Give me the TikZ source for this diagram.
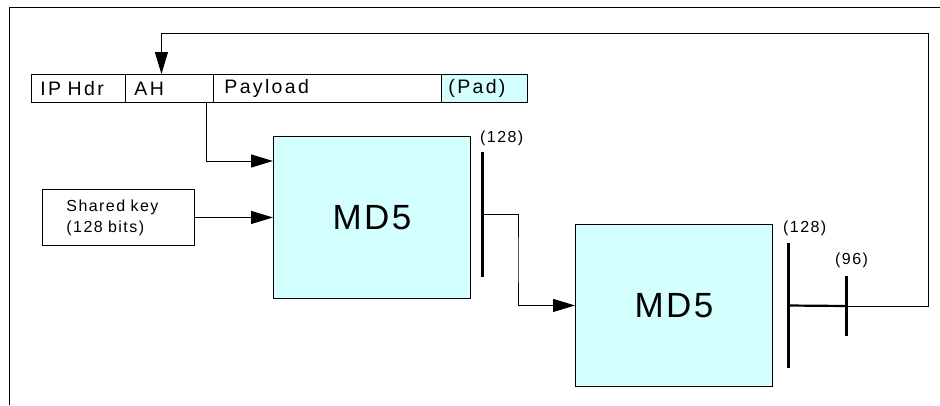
\documentclass[tikz,border=0pt]{standalone}
\usepackage{fontspec}
\setmainfont{Liberation Sans}
\newfontfamily\widefont[LetterSpace=12,WordSpace=1.6]{Liberation Sans}
\newfontfamily\lblwide[LetterSpace=9,WordSpace=1.6]{Liberation Sans}
\newfontfamily\mdwide[LetterSpace=7]{Liberation Sans}
\usetikzlibrary{arrows.meta}
\definecolor{boxcyan}{RGB}{212,255,255}
\tikzset{
  field/.style={draw, line width=0.9pt, minimum height=28pt, inner xsep=9pt, inner ysep=0pt,
    anchor=north west, align=left, font=\widefont\fontsize{19.5}{22}\selectfont},
  mdbox/.style={draw, fill=boxcyan, line width=0.9pt, minimum width=197pt, minimum height=162pt,
    anchor=north west, inner sep=0pt, font=\mdwide\fontsize{35}{40}\selectfont},
  keybox/.style={draw, line width=0.9pt, minimum height=56pt, inner xsep=24pt, inner ysep=0pt,
    anchor=north west, align=left, font=\lblwide\fontsize{16}{21}\selectfont},
  bar/.style={fill=black, inner sep=0pt, minimum width=3pt},
  conn/.style={line width=1pt},
  thickconn/.style={line width=2.2pt},
  arr/.style={conn, -{Triangle[length=22pt,width=13pt]}},
  lbl/.style={font=\lblwide\fontsize{16}{18}\selectfont, inner sep=0pt}
}
\begin{document}
\begin{tikzpicture}[x=1pt,y=-1pt]
\useasboundingbox (0,0) rectangle (940,405);
% frame
\draw[line width=1pt] (940,7) -- (9,7) -- (9,405);
% packet fields
\node[field, text width=76pt] (ip) at (31,74) {IP Hdr};
\node[field, text width=70pt] (ah) at (125,74) {AH};
\node[field, text width=206pt, inner xsep=11pt] (pay) at (213,74) {Payload};
\node[field, text width=72pt, inner xsep=7pt, fill=boxcyan] (pad) at (441,74) {(Pad)};
% key box
\node[keybox, text width=104pt] (key) at (42,189) {Shared key\\(128 bits)};
% MD5 boxes
\node[mdbox] (md5a) at (273,136) {MD5};
\node[mdbox] (md5b) at (575,224) {MD5};
% bars
\node[bar, minimum height=125pt] (b1) at (482,214.5) {};
\node[bar, minimum height=125pt] (b2) at (788,305.5) {};
\node[bar, minimum height=60pt] (b3) at (846,306) {};
% bar labels
\node[lbl, anchor=base west] (l1) at ([xshift=-2pt,yshift=9pt]b1.north) {(128)};
\node[lbl, anchor=base west] (l2) at ([xshift=-5pt,yshift=10pt]b2.north) {(128)};
\node[lbl, anchor=base west] (l3) at ([xshift=-11pt,yshift=11pt]b3.north) {(96)};
% connectors
\coordinate (j1) at (518,260);
\coordinate (fb) at (928,33);
\draw[arr] ([xshift=-7pt]ah.south east) |- (md5a.west |- 0,161);
\draw[arr] (key.east) -- (md5a.west |- key.east);
\draw[arr] (b1.center) -| (j1) |- (md5b.west);
\draw[thickconn] (b2.center) -- (b3.center);
\draw[arr] (b3.center) -| (fb) -| ([xshift=-8pt]ah.north);
\end{tikzpicture}
\end{document}
